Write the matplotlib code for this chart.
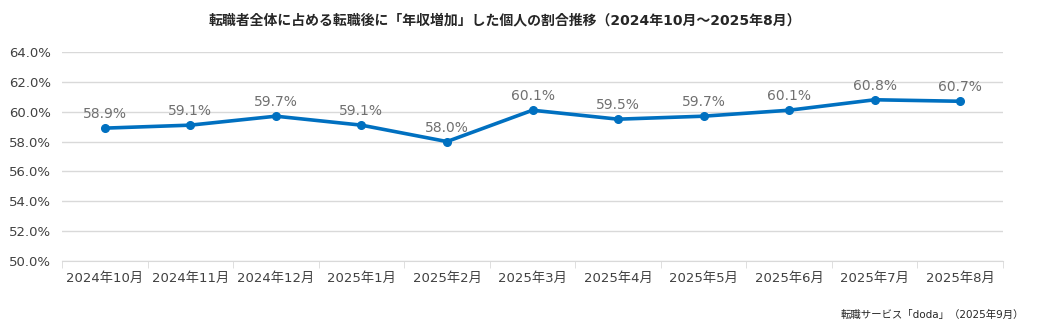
import matplotlib.pyplot as plt
import numpy as np

plt.rcParams['font.family'] = ['DejaVu Sans', 'Noto Sans CJK JP']

months = ['2024年10月', '2024年11月', '2024年12月', '2025年1月', '2025年2月', '2025年3月',
          '2025年4月', '2025年5月', '2025年6月', '2025年7月', '2025年8月']
rates = [58.9, 59.1, 59.7, 59.1, 58.0, 60.1, 59.5, 59.7, 60.1, 60.8, 60.7]
yticks = [50, 52, 54, 56, 58, 60, 62, 64]

fig = plt.figure(figsize=(10.39, 3.34), dpi=100)
ax = fig.add_axes([62 / 1039, 1 - 261 / 334, (1003 - 62) / 1039, (261 - 52) / 334])

x = np.arange(len(months))
ax.plot(x, rates, color='#0070C0', lw=2.6, marker='o', ms=5.5, zorder=3)
for xi, v in zip(x, rates):
    ax.annotate(f'{v:.1f}%', (xi, v), xytext=(0, 5), textcoords='offset points',
                ha='center', va='bottom', fontsize=10, color='#707070')

ax.set_xlim(-0.5, len(months) - 0.5)
ax.set_ylim(50, 64)
ax.set_yticks(yticks)
ax.set_yticklabels([f'{t:.1f}%' for t in yticks], fontsize=9.5, color='#404040')
ax.set_xticks(x)
ax.set_xticklabels(months, fontsize=9.5, color='#404040')
ax.set_xticks(np.arange(-0.5, len(months)), minor=True)
ax.tick_params(axis='x', which='major', length=0, pad=8)
ax.tick_params(axis='x', which='minor', length=5, color='#D9D9D9')
ax.tick_params(axis='y', length=0, pad=8)
ax.grid(axis='y', color='#D9D9D9', lw=1)
ax.set_axisbelow(True)
for s in ['top', 'right', 'left']:
    ax.spines[s].set_visible(False)
ax.spines['bottom'].set_color('#D9D9D9')

fig.text(505 / 1039, 1 - 20 / 334, '転職者全体に占める転職後に「年収増加」した個人の割合推移（2024年10月～2025年8月）',
         ha='center', va='center', fontsize=10, fontweight='bold', color='#262626')
fig.text(1024 / 1039, 1 - 315 / 334, '転職サービス「doda」（2025年9月）',
         ha='right', va='center', fontsize=7.5, color='#262626')

fig.savefig('out.png', dpi=100)
